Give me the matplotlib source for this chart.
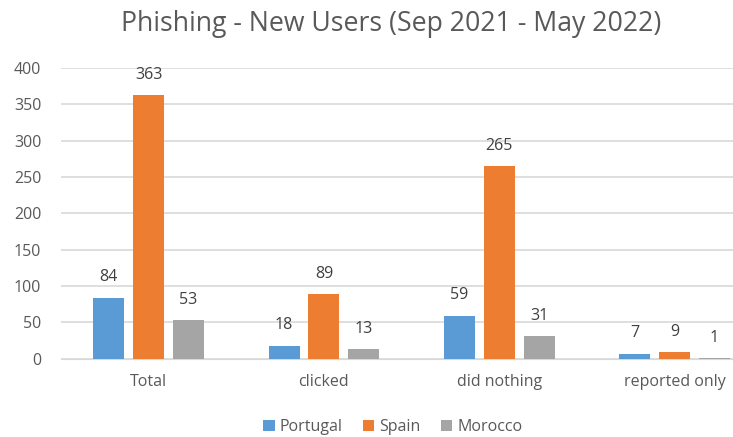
import numpy as np
import matplotlib.pyplot as plt

plt.rcParams['font.family'] = ['Open Sans', 'DejaVu Sans']

categories = ['Total', 'clicked', 'did nothing', 'reported only']
portugal = [84, 18, 59, 7]
spain = [363, 89, 265, 9]
morocco = [53, 13, 31, 1]
series = ['Portugal', 'Spain', 'Morocco']
colors = ['#5B9BD5', '#ED7D31', '#A5A5A5']
txt = '#595959'

fig = plt.figure(figsize=(7.33, 4.37), dpi=100)
# the source image is cut off on the right, so the plot area runs past the edge
ax = fig.add_axes([0.083, 0.179, 0.957, 0.665])

x = np.arange(len(categories))
w = 0.177
step = 0.227
for i, (vals, name, c) in enumerate(zip([portugal, spain, morocco], series, colors)):
    bars = ax.bar(x + (i - 1) * step, vals, w, color=c, label=name, zorder=3)
    ax.bar_label(bars, padding=9, fontsize=11.5, color='#404040')

ax.set_xlim(-0.5, 3.5)
ax.set_ylim(0, 400)
ax.set_yticks(range(0, 401, 50))
ax.yaxis.grid(True, color='#D9D9D9', linewidth=1.2, zorder=0)
ax.set_xticks(x)
ax.set_xticklabels(categories)
ax.tick_params(axis='both', length=0, labelsize=11.5, colors=txt)
ax.tick_params(axis='x', pad=11)
ax.tick_params(axis='y', pad=14)
for s in ['top', 'right', 'left']:
    ax.spines[s].set_visible(False)
ax.spines['bottom'].set_color('#D9D9D9')

fig.text(0.533, 0.944, 'Phishing - New Users (Sep 2021 - May 2022)', ha='center', va='center',
         fontsize=19.2, color=txt)
fig.legend(loc='center', bbox_to_anchor=(0.536, 0.022), ncol=3, frameon=False, fontsize=11.5,
           handlelength=0.7, handleheight=0.7, handletextpad=0.3, columnspacing=1.3,
           labelcolor=txt)

fig.savefig('out.png', dpi=100)
